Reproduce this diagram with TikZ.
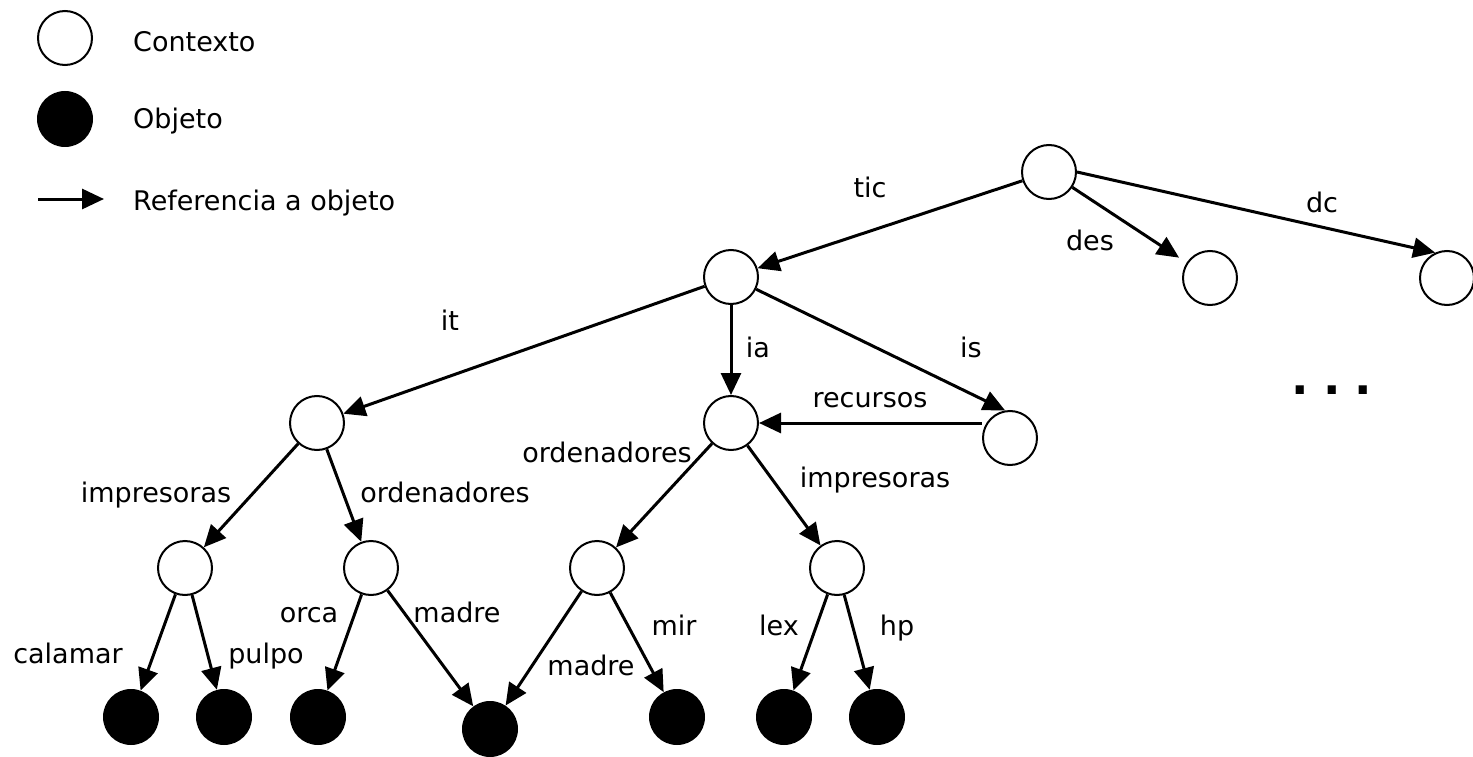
\documentclass[tikz,border=0pt]{standalone}
\usepackage{fontspec}
\setmainfont{DejaVu Sans}
\usetikzlibrary{arrows.meta}
\begin{document}
\begin{tikzpicture}[x=1pt,y=-1pt,
 ctx/.style={circle,draw,line width=2pt,minimum size=54pt,inner sep=0pt,fill=white},
 obj/.style={circle,fill=black,minimum size=56pt,inner sep=0pt},
 ref/.style={line width=3pt,-{Triangle[length=22pt,width=20pt]}},
 lbl/.style={anchor=base,inner sep=0pt,font=\fontsize{27}{32}\selectfont},
 leg/.style={anchor=base west,inner sep=0pt,font=\fontsize{27}{32}\selectfont},
]
\useasboundingbox (0,0) rectangle (1473,757);
% legend
\node[ctx] (lc) at (65,38) {};
\node[obj] (lo) at (65,119) {};
\coordinate (la) at (38,199);
\coordinate (lb) at (104,199);
\draw[ref] (la) -- (lb);
\node[leg] (tc) at (133,52) {Contexto};
\node[leg] (to) at (133,129) {Objeto};
\node[leg] (tr) at (133,211) {Referencia a objeto};
% context nodes
\node[ctx] (root) at (1049,172) {};
\node[ctx] (tic) at (731,277) {};
\node[ctx] (des) at (1210,278) {};
\node[ctx] (dc) at (1447,278) {};
\node[ctx] (it) at (317,423) {};
\node[ctx] (ia) at (731,423) {};
\node[ctx] (is) at (1010,438) {};
\node[ctx] (itimp) at (185,568) {};
\node[ctx] (itord) at (371,568) {};
\node[ctx] (iaord) at (597,568) {};
\node[ctx] (iaimp) at (837,568) {};
% objects
\node[obj] (calamar) at (131,717) {};
\node[obj] (pulpo) at (224,717) {};
\node[obj] (orca) at (318,717) {};
\node[obj] (madre) at (490,729) {};
\node[obj] (mir) at (677,717) {};
\node[obj] (lex) at (784,717) {};
\node[obj] (hp) at (877,717) {};
% edges
\draw[ref] (root) -- (tic);
\draw[ref,shorten >=9pt] (root) -- (des);
\draw[ref] (root.east) -- (dc.115);
\draw[ref] (tic) -- (it);
\draw[ref] (tic) -- (ia);
\draw[ref] (tic) -- (is.100);
\draw[ref] (is.west |- ia) -- (ia);
\draw[ref] (it) -- (itimp);
\draw[ref] (it) -- (itord);
\draw[ref] (itimp) -- (calamar);
\draw[ref] (itimp) -- (pulpo);
\draw[ref] (itord) -- (orca);
\draw[ref] (itord) -- (madre);
\draw[ref] (ia) -- (iaord);
\draw[ref] (ia) -- (iaimp);
\draw[ref] (iaord) -- (madre);
\draw[ref] (iaord) -- (mir);
\draw[ref] (iaimp) -- (lex);
\draw[ref] (iaimp) -- (hp);
% labels
\node[lbl] (l1) at (870,197) {tic};
\node[lbl] (l2) at (1090,250) {des};
\node[lbl] (l3) at (1322,212) {dc};
\node[lbl] (l4) at (450,330) {it};
\node[lbl] (l5) at (758,357) {ia};
\node[lbl] (l6) at (971,357) {is};
\node[lbl] (l7) at (870,407) {recursos};
\node[lbl] (l8) at (607,462) {ordenadores};
\node[lbl] (l9) at (875,487) {impresoras};
\node[lbl] (l10) at (156,502) {impresoras};
\node[lbl] (l11) at (445,502) {ordenadores};
\node[lbl] (l12) at (309,622) {orca};
\node[lbl] (l13) at (457,622) {madre};
\node[lbl] (l14) at (68,663) {calamar};
\node[lbl] (l15) at (266,663) {pulpo};
\node[lbl] (l16) at (591,675) {madre};
\node[lbl] (l17) at (674,635) {mir};
\node[lbl] (l18) at (779,635) {lex};
\node[lbl] (l19) at (897,635) {hp};
\node[lbl,font=\fontsize{46}{50}\selectfont\bfseries] (dots) at (1332,394) {.\hspace{14pt}.\hspace{14pt}.};
\end{tikzpicture}
\end{document}
